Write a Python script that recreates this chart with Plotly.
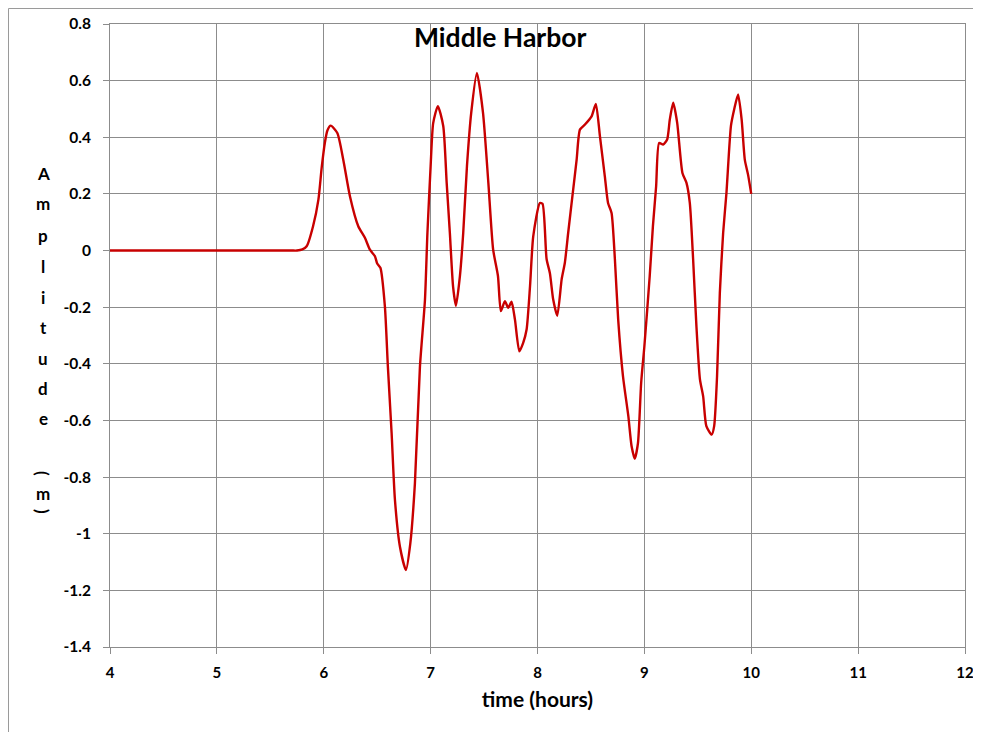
import plotly.graph_objects as go

# ---- data ----
time_hours = [4.0, 4.5, 5.0, 5.5, 5.7, 5.75, 5.80, 5.84, 5.90, 5.95, 5.98, 6.01, 6.035, 6.065, 6.127,
              6.183, 6.245, 6.323, 6.385,
              6.432, 6.479, 6.50, 6.53, 6.572, 6.60, 6.635, 6.666, 6.713, 6.769, 6.81, 6.853, 6.90,
              6.947, 6.97, 7.0, 7.024, 7.068, 7.118, 7.15, 7.18, 7.21, 7.237, 7.274, 7.305, 7.34,
              7.38, 7.433, 7.49, 7.54, 7.585, 7.63, 7.657, 7.695, 7.726, 7.757, 7.789, 7.83, 7.866,
              7.898, 7.93, 7.96, 8.022, 8.047, 8.085, 8.116, 8.147, 8.185, 8.226, 8.256, 8.287,
              8.334, 8.366, 8.397, 8.444, 8.506, 8.546, 8.584, 8.63, 8.66, 8.693, 8.724, 8.755,
              8.80, 8.85, 8.88, 8.91, 8.94, 8.97, 9.0, 9.05, 9.08, 9.11, 9.138, 9.175, 9.213,
              9.238, 9.27, 9.307, 9.356, 9.394, 9.425, 9.456, 9.487, 9.52, 9.55, 9.58, 9.63,
              9.653, 9.68, 9.706, 9.737, 9.768, 9.81, 9.84, 9.877, 9.91, 9.94, 9.97, 10.0]

amplitude_m = [0, 0, 0, 0, 0, 0, 0.004, 0.015, 0.086, 0.18, 0.29, 0.38, 0.425, 0.441, 0.415, 0.32,
               0.192, 0.086, 0.045,
               0.003, -0.02, -0.046, -0.061, -0.197, -0.41, -0.645, -0.88, -1.046, -1.128, -1.034,
               -0.822, -0.41, -0.174, 0.062, 0.298, 0.45, 0.51, 0.44, 0.24, 0.062, -0.127, -0.195,
               -0.09, 0.062, 0.298, 0.487, 0.627, 0.487, 0.24, 0.003, -0.09, -0.214, -0.179, -0.202,
               -0.181, -0.244, -0.356, -0.326, -0.279, -0.126, 0.05, 0.168, 0.165, -0.03, -0.08,
               -0.173, -0.23, -0.102, -0.043, 0.062, 0.216, 0.32, 0.427, 0.445, 0.474, 0.518, 0.404,
               0.262, 0.168, 0.133, -0.03, -0.244, -0.444, -0.585, -0.69, -0.735, -0.68, -0.467,
               -0.338, -0.09, 0.086, 0.227, 0.38, 0.374, 0.392, 0.463, 0.522, 0.451, 0.274, 0.239,
               0.168, -0.03, -0.267, -0.455, -0.515, -0.62, -0.65, -0.62, -0.444, -0.15, 0.062,
               0.204, 0.44, 0.498, 0.551, 0.463, 0.32, 0.268, 0.2]

x_ticks = [4, 5, 6, 7, 8, 9, 10, 11, 12]
y_ticks = [0.8, 0.6, 0.4, 0.2, 0, -0.2, -0.4, -0.6, -0.8, -1, -1.2, -1.4]
y_tick_labels = ["0.8", "0.6", "0.4", "0.2", "0", "-0.2", "-0.4", "-0.6", "-0.8", "-1", "-1.2", "-1.4"]

title_text = "Middle Harbor"
x_title = "time (hours)"
# stacked y title "Amplitude (m)" (the blank between "e" and "(" is skipped)
y_title_chars = ["A", "m", "p", "l", "i", "t", "u", "d", "e", "(", "m", ")"]

FONT = "Lato"
GRID = "#8c8c8c"

fig = go.Figure()
fig.add_trace(go.Scatter(
    x=time_hours, y=amplitude_m, mode="lines",
    line=dict(color="#c80000", width=2.4, shape="spline", smoothing=0.6),
    showlegend=False, hoverinfo="x+y",
))

# page body has an 8px margin; figure is sized/offset so the plot area lands
# at x 110..965, y 24..647 in the 981x732 window
OFF = 8
W, H = 973, 724
PL, PR, PT, PB = 110, 965, 24, 647  # absolute plot-area edges in the window
L = PL - OFF
T = PT - OFF
R = (OFF + W) - PR
B = (OFF + H) - PB
fig.update_layout(
    width=W, height=H,
    margin=dict(l=L, r=R, t=T, b=B, pad=0, autoexpand=False),
    paper_bgcolor="white", plot_bgcolor="white",
    font=dict(family=FONT, color="black"),
    showlegend=False,
)
fig.update_xaxes(
    range=[4, 12], tickvals=x_ticks, ticktext=[str(v) for v in x_ticks],
    automargin=False,
    showgrid=True, gridcolor=GRID, gridwidth=1,
    showline=True, linecolor=GRID, linewidth=1, mirror=True,
    ticks="outside", ticklen=6, tickcolor=GRID,
    tickfont=dict(family=FONT, size=15, color="black", weight="bold"),
    ticklabelstandoff=6,
    zeroline=False,
    title=dict(text=x_title, font=dict(family=FONT, size=21, color="black", weight="bold"), standoff=12),
)
fig.update_yaxes(
    range=[-1.4, 0.8], tickvals=y_ticks, ticktext=y_tick_labels,
    automargin=False,
    showgrid=True, gridcolor=GRID, gridwidth=1,
    showline=True, linecolor=GRID, linewidth=1, mirror=True,
    ticks="outside", ticklen=6, tickcolor=GRID,
    tickfont=dict(family=FONT, size=15.5, color="black", weight="bold"),
    ticklabelstandoff=9,
    zeroline=False,
)

pw, ph = PR - PL, PB - PT


def px_to_paper(px, py):
    return (px - PL) / pw, (PB - py) / ph


# title (inside the plot area, as in the reference)
tx, ty = px_to_paper(500, 37)
fig.add_annotation(x=tx, y=ty, xref="paper", yref="paper", text=title_text, showarrow=False,
                   font=dict(family=FONT, size=26.5, color="black", weight="bold"),
                   xanchor="center", yanchor="middle")

letter_y = [173, 204, 235, 266, 297, 327, 358, 388, 418, 473, 493, 511]
for ch, py in zip(y_title_chars, letter_y):
    ax, ay = px_to_paper(43, py)
    fig.add_annotation(x=ax, y=ay, xref="paper", yref="paper", text=ch, showarrow=False,
                       textangle=90 if ch in "()" else 0,
                       font=dict(family=FONT, size=17, color="black", weight="bold"),
                       xanchor="center", yanchor="middle")

# outer chart-area border (top and left edges visible in the reference)
bx0, by1 = px_to_paper(OFF + 0.5, OFF + 0.5)
bx1, by0 = px_to_paper(OFF + W + 5, OFF + H + 5)
fig.add_shape(type="rect", xref="paper", yref="paper",
              x0=bx0, x1=bx1, y0=by0, y1=by1,
              line=dict(color="#9a9a9a", width=1), fillcolor="rgba(0,0,0,0)", layer="below")

fig.write_html("out.html")
